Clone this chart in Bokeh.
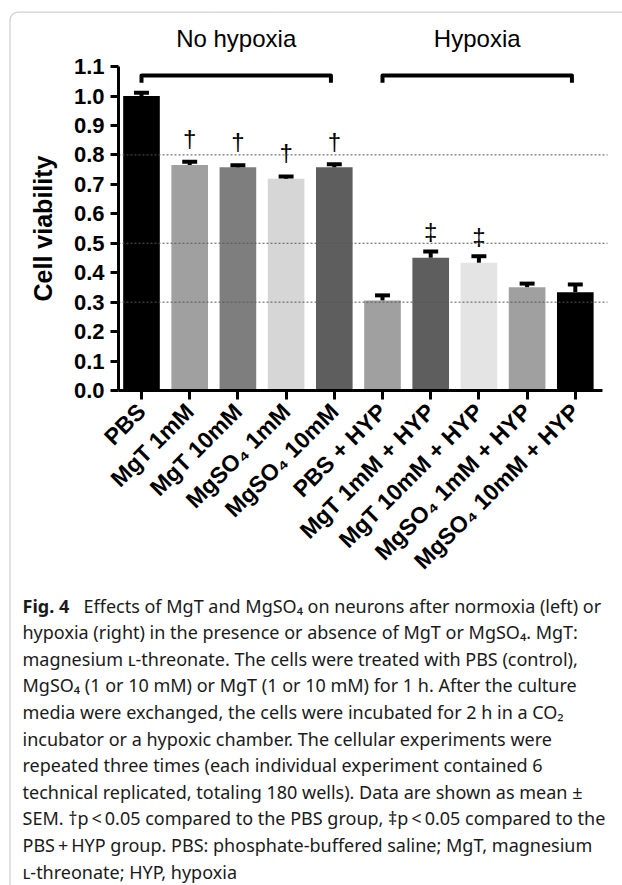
import math
from bokeh.plotting import figure
from bokeh.models import (Range1d, FixedTicker, PrintfTickFormatter, LinearAxis,
                          BoxAnnotation, ColumnDataSource)
from bokeh.core.properties import value
from bokeh.embed import file_html
from bokeh.resources import INLINE

# ---------------- data ----------------
categories = ["PBS", "MgT 1mM", "MgT 10mM", "MgSO\u2084 1mM", "MgSO\u2084 10mM",
              "PBS + HYP", "MgT 1mM + HYP", "MgT 10mM + HYP",
              "MgSO\u2084 1mM + HYP", "MgSO\u2084 10mM + HYP"]
means = [1.000, 0.766, 0.758, 0.719, 0.758, 0.306, 0.451, 0.434, 0.351, 0.334]
sems = [0.011, 0.011, 0.007, 0.008, 0.010, 0.017, 0.021, 0.022, 0.012, 0.026]
bar_colors = ["#000000", "#a0a0a0", "#7e7e7e", "#d6d6d6", "#5e5e5e",
              "#a0a0a0", "#5e5e5e", "#e4e4e4", "#a0a0a0", "#000000"]
marks = ["", "\u2020", "\u2020", "\u2020", "\u2020", "", "\u2021", "\u2021", "", ""]
groups = ["No hypoxia", "Hypoxia"]
group_first = [0, 5]
group_last = [4, 9]
ref_lines = [0.3, 0.5, 0.8]
y_ticks = [0.0, 0.1, 0.2, 0.3, 0.4, 0.5, 0.6, 0.7, 0.8, 0.9, 1.0, 1.1]
y_label = "Cell viability"

caption_bold = "Fig. 4"
caption_lines = [
    "Effects of MgT and MgSO\u2084 on neurons after normoxia (left) or",
    "hypoxia (right) in the presence or absence of MgT or MgSO\u2084. MgT:",
    "magnesium \u029f-threonate. The cells were treated with PBS (control),",
    "MgSO\u2084 (1 or 10 mM) or MgT (1 or 10 mM) for 1 h. After the culture",
    "media were exchanged, the cells were incubated for 2 h in a CO\u2082",
    "incubator or a hypoxic chamber. The cellular experiments were",
    "repeated three times (each individual experiment contained 6",
    "technical replicated, totaling 180 wells). Data are shown as mean \u00b1",
    "SEM. \u2020p\u2009<\u20090.05 compared to the PBS group, \u2021p\u2009<\u20090.05 compared to the",
    "PBS\u2009+\u2009HYP group. PBS: phosphate-buffered saline; MgT, magnesium",
    "\u029f-threonate; HYP, hypoxia",
]

# ---------------- layout (pixel geometry of the page) ----------------
W, H = 622, 885
X0_PX, X_UNIT = 141.0, 48.2        # centre of first bar, px per category
Y0_PX, Y_UNIT = 390.0, 294.5       # baseline of bars, px per 1.0 viability


def x_of(px):
    return (px - X0_PX) / X_UNIT


def y_of(py):
    return (Y0_PX - py) / Y_UNIT


p = figure(width=W, height=H, output_backend="svg", toolbar_location=None,
           x_range=Range1d(x_of(0), x_of(W)), y_range=Range1d(y_of(H), y_of(0)),
           x_axis_location=None, y_axis_location=None, min_border=0)
p.outline_line_color = None
p.xgrid.visible = False
p.ygrid.visible = False
p.background_fill_color = "white"

xs = list(range(len(categories)))
src = ColumnDataSource(dict(x=xs, top=means, color=bar_colors,
                            err=[m + s for m, s in zip(means, sems)],
                            cl=[x - 0.155 for x in xs], cr=[x + 0.155 for x in xs],
                            mark=marks, my=[m + 0.088 for m in means]))

p.vbar(x="x", top="top", bottom=0, width=0.76, fill_color="color",
       line_color=None, source=src)
p.segment(x0="x", y0="top", x1="x", y1="err", line_width=4, line_color="black",
          source=src)
p.segment(x0="cl", y0="err", x1="cr", y1="err", line_width=4, line_color="black",
          source=src)
p.text(x="x", y="my", text="mark", text_align="center", text_baseline="middle",
       text_font=value("Liberation Sans"), text_font_size="24px",
       text_color="black", source=src)

# dotted reference lines (drawn over bars)
p.segment(x0=[x_of(118)] * len(ref_lines), x1=[x_of(607)] * len(ref_lines),
          y0=ref_lines, y1=ref_lines, line_color="#555555", line_width=1,
          line_dash="2 2")

# group brackets
bx, by, tx, ty = [], [], [], []
for g, a, b in zip(groups, group_first, group_last):
    a2, b2 = a, b - 0.07
    bx.append([a2, a2, b2, b2])
    by.append([1.045, 1.07, 1.07, 1.045])
    tx.append((a2 + b2) / 2)
    ty.append(1.195)
p.multi_line(xs=bx, ys=by, line_width=4, line_color="black", line_join="round")
p.text(x=tx, y=ty, text=groups, text_align="center", text_baseline="middle",
       text_font=value("Liberation Sans"), text_font_size="24px", text_color="black")

# axes (fixed inside the full-canvas frame)
xa = LinearAxis(fixed_location=0.0)
xa.ticker = FixedTicker(ticks=xs)
xa.major_label_overrides = {i: c for i, c in enumerate(categories)}
xa.major_label_orientation = math.pi / 4
xa.bounds = (x_of(118), x_of(602))
xa.axis_line_width = 3
xa.major_tick_line_width = 3
xa.major_tick_out = 9
xa.major_tick_in = 0
xa.minor_tick_line_color = None
xa.major_label_text_font = "Liberation Sans"
xa.major_label_text_font_style = "bold"
xa.major_label_text_font_size = "23px"
xa.major_label_text_color = "black"
xa.major_label_standoff = 8
p.add_layout(xa, "below")

ya = LinearAxis(fixed_location=x_of(118))
ya.ticker = FixedTicker(ticks=y_ticks)
ya.formatter = PrintfTickFormatter(format="%.1f")
ya.bounds = (0, 1.1)
ya.axis_line_width = 3
ya.major_tick_line_width = 3
ya.major_tick_out = 8
ya.major_tick_in = 0
ya.minor_tick_line_color = None
ya.major_label_text_font = "Liberation Sans"
ya.major_label_text_font_style = "bold"
ya.major_label_text_font_size = "22px"
ya.major_label_text_color = "black"
ya.major_label_standoff = 6
ya.axis_label = y_label
ya.axis_label_text_font = "Liberation Sans"
ya.axis_label_text_font_style = "bold"
ya.axis_label_text_font_size = "25px"
ya.axis_label_text_color = "black"
ya.axis_label_standoff = 14
p.add_layout(ya, "left")

# border of the figure panel
p.add_layout(BoxAnnotation(left=x_of(9.5), right=x_of(700), top=y_of(11.7),
                           bottom=y_of(1000), fill_alpha=0,
                           line_color="#666666", line_width=1.3, border_radius=8))

# caption
cap_font = value("Noto Sans")
cap_size = "18px"
cap_x = 22
cap_y0, cap_dy = 605.0, 26.6
p.text(x=[x_of(cap_x)], y=[y_of(cap_y0)], text=[caption_bold],
       text_font=cap_font, text_font_style="bold", text_font_size=cap_size,
       text_color="#1a1a1a", text_baseline="middle")
p.text(x=[x_of(83)] + [x_of(cap_x)] * (len(caption_lines) - 1),
       y=[y_of(cap_y0 + cap_dy * k) for k in range(len(caption_lines))],
       text=caption_lines, text_font=cap_font, text_font_size=cap_size,
       text_color="#1a1a1a", text_baseline="middle")

open("out.html", "w").write(file_html(p, INLINE))
